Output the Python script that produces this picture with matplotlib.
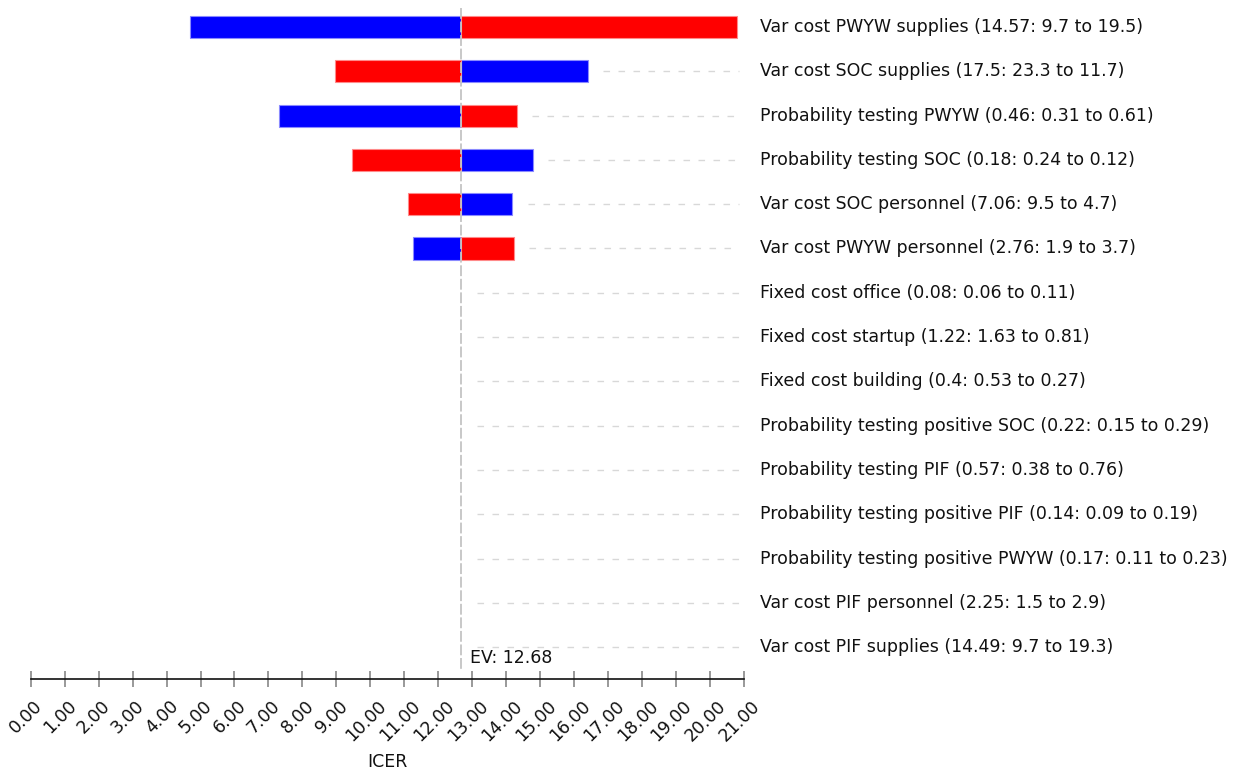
import matplotlib
matplotlib.use("Agg")
import matplotlib.pyplot as plt
import matplotlib.transforms as mtransforms
import numpy as np

labels = [
    "Var cost PWYW supplies (14.57: 9.7 to 19.5)",
    "Var cost SOC supplies (17.5: 23.3 to 11.7)",
    "Probability testing PWYW (0.46: 0.31 to 0.61)",
    "Probability testing SOC (0.18: 0.24 to 0.12)",
    "Var cost SOC personnel (7.06: 9.5 to 4.7)",
    "Var cost PWYW personnel (2.76: 1.9 to 3.7)",
    "Fixed cost office (0.08: 0.06 to 0.11)",
    "Fixed cost startup (1.22: 1.63 to 0.81)",
    "Fixed cost building (0.4: 0.53 to 0.27)",
    "Probability testing positive SOC (0.22: 0.15 to 0.29)",
    "Probability testing PIF (0.57: 0.38 to 0.76)",
    "Probability testing positive PIF (0.14: 0.09 to 0.19)",
    "Probability testing positive PWYW (0.17: 0.11 to 0.23)",
    "Var cost PIF personnel (2.25: 1.5 to 2.9)",
    "Var cost PIF supplies (14.49: 9.7 to 19.3)",
]
ev = 12.68
blue_vals = [4.69, 16.41, 7.31, 14.79, 14.18, 11.25,
             12.68, 12.68, 12.68, 12.68, 12.68, 12.68, 12.68, 12.68, 12.68]
red_vals = [20.79, 8.97, 14.31, 9.46, 11.12, 14.23,
            12.68, 12.68, 12.68, 12.68, 12.68, 12.68, 12.68, 12.68, 12.68]
xticks = np.arange(0, 22, 1)

plt.rcParams['font.family'] = ['DejaVu Sans']
fig = plt.figure(figsize=(12.33, 7.72), dpi=100)
ax = fig.add_axes([30.7/1233, 1 - 679/772, (744-30.7)/1233, 679/772])

n = len(labels)
ax.set_xlim(0, 21)
ax.set_ylim(n - 1 + 0.72, -0.61)

fs = 12.5
bh = 0.5
for i in range(n):
    b, r = blue_vals[i], red_vals[i]
    if b != ev:
        ax.barh(i, b - ev, left=ev, height=bh, color='#0000ff', edgecolor='#8a8aff', linewidth=0.8, zorder=3)
    if r != ev:
        ax.barh(i, r - ev, left=ev, height=bh, color='#ff0000', edgecolor='#ff8a8a', linewidth=0.8, zorder=3)
    right = max(b, r, ev)
    start = right + 0.45
    if start < 20.8:
        ax.plot([start, 20.85], [i, i], color='#d8d8d8', lw=1.0, dashes=(4.7, 6.1), zorder=1)
    ax.text(21.47, i, labels[i], va='center', ha='left', fontsize=fs, color='#111111', clip_on=False)

ax.plot([ev, ev], [-0.43, n - 1 + 0.55], color='#c4c4c4', lw=1.3, dashes=(6, 1.5), zorder=4)
ax.text(ev + 0.25, (658 - 27) / 44.29, f"EV: {ev:.2f}", va='center', ha='left', fontsize=fs, color='#111111')

for s in ['top', 'right', 'left']:
    ax.spines[s].set_visible(False)
ax.spines['bottom'].set_color('#111111')
ax.spines['bottom'].set_linewidth(1.2)
ax.set_yticks([])
ax.set_xticks(xticks)
ax.set_xticklabels([f"{v:.2f}" for v in xticks], rotation=45, ha='center', va='top',
                   fontsize=fs, color='#111111')
ax.tick_params(axis='x', direction='inout', length=11.5, width=1.2, color='#888888', pad=7.2)
offset = mtransforms.ScaledTranslation(-4.5 / 100, 0, fig.dpi_scale_trans)
for lab in ax.get_xticklabels():
    lab.set_transform(lab.get_transform() + offset)
ax.patch.set_alpha(0)

fig.text(387 / 1233, 1 - 762 / 772, "ICER", ha='center', va='center', fontsize=fs, color='#111111')

fig.savefig("out.png", dpi=100)
